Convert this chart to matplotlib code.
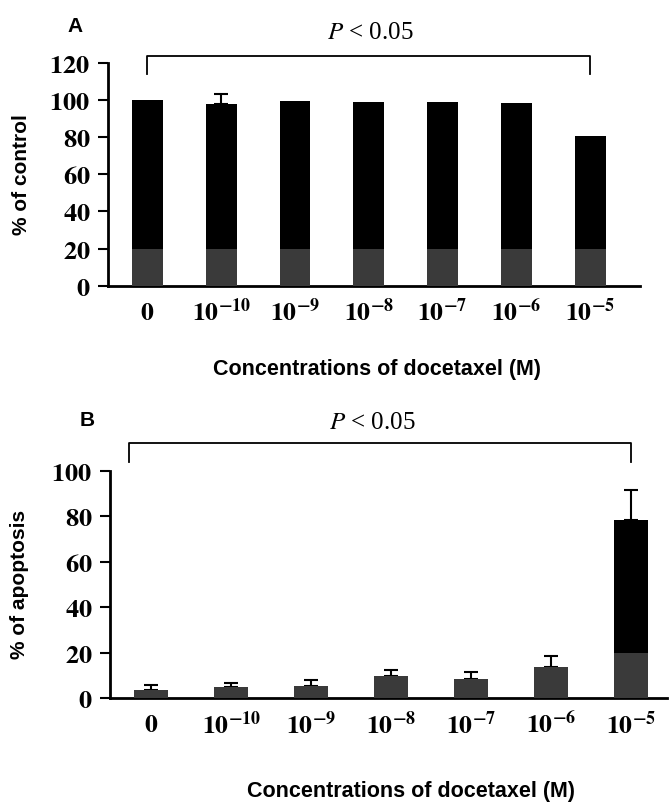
import matplotlib
matplotlib.use("Agg")
import matplotlib.pyplot as plt
import numpy as np

plt.rcParams['mathtext.fontset'] = 'stix'
plt.rcParams['mathtext.default'] = 'bf'

conc_labels = ['$0$', r'$10^{-10}$', r'$10^{-9}$', r'$10^{-8}$', r'$10^{-7}$', r'$10^{-6}$', r'$10^{-5}$']

# panel A: viability (% of control)
viab = [100, 97.7, 99.3, 99, 98.6, 98.2, 80.6]
viab_err = [0, 5.2, 0, 0, 0, 0, 0]

# panel B: apoptosis (%)
apop = [3.5, 4.8, 5.4, 9.5, 8.5, 13.6, 78.3]
apop_err = [2.2, 1.9, 2.3, 2.9, 2.8, 5.0, 13.2]

speckle = '#3a3a3a'
serif = 'Liberation Serif'
sans = 'Liberation Sans'


def draw_panel(ax, vals, errs, ylim, yticks, ylabel, width, xlim, bracket, speck_h, ylab_x):
    x = np.arange(len(vals))
    vals = np.array(vals)
    low = np.minimum(vals, speck_h)
    ax.bar(x, vals, width=width, color='black', zorder=2)
    ax.bar(x, low, width=width, color=speckle, zorder=3)
    for xi, v, e in zip(x, vals, errs):
        if e > 0:
            ax.errorbar(xi, v, yerr=[[0], [e]], color='black', capsize=5,
                        elinewidth=1.5, capthick=1.5, zorder=1)
    ax.set_xlim(*xlim)
    ax.set_ylim(*ylim)
    ax.set_yticks(yticks)
    ax.set_yticklabels(['$%d$' % t for t in yticks], fontsize=19)
    ax.set_xticks(x)
    ax.set_xticklabels(conc_labels, fontsize=18.5)
    ax.tick_params(axis='x', length=0, pad=10)
    ax.tick_params(axis='y', length=7, width=1.5, pad=6)
    for s in ['top', 'right']:
        ax.spines[s].set_visible(False)
    ax.spines['left'].set_linewidth(2)
    ax.spines['bottom'].set_linewidth(2)
    ax.set_ylabel(ylabel, fontfamily=sans, fontweight='bold', fontsize=15)
    ax.yaxis.set_label_coords(ylab_x, 0.5)
    bl, br, btop, bleg = bracket
    ax.plot([bl, bl, br, br], [bleg, btop, btop, bleg], color='black', lw=1.3,
            clip_on=False)


fig = plt.figure(figsize=(6.69, 8.06), dpi=100)

axA = fig.add_axes([0.162, 0.6455, 0.795, 0.2767])
draw_panel(axA, viab, viab_err, (0, 120), [0, 20, 40, 60, 80, 100, 120],
           '% of control', 0.42, (-0.53, 6.68), (0, 6, 123.4, 113.8), 20, -0.145)

axB = fig.add_axes([0.165, 0.134, 0.832, 0.282])
draw_panel(axB, apop, apop_err, (0, 100), [0, 20, 40, 60, 80, 100],
           '% of apoptosis', 0.43, (-0.51, 6.45), (-0.28, 6, 112, 104), 20, -0.146)

xlab = 'Concentrations of docetaxel (M)'
fig.text(0.563, 1 - 370 / 806, xlab, fontfamily=sans, fontweight='bold',
         fontsize=15.5, ha='center', va='center')
fig.text(0.614, 1 - 792 / 806, xlab, fontfamily=sans, fontweight='bold',
         fontsize=15.5, ha='center', va='center')

fig.text(0.553, 1 - 33 / 806, r'$\mathit{P}$ < 0.05', fontfamily=serif, fontsize=18,
         ha='center', va='center')
fig.text(0.556, 1 - 423 / 806, r'$\mathit{P}$ < 0.05', fontfamily=serif, fontsize=18,
         ha='center', va='center')
fig.text(0.112, 1 - 27 / 806, 'A', fontfamily=sans, fontweight='bold', fontsize=15,
         ha='center', va='center')
fig.text(0.130, 1 - 420 / 806, 'B', fontfamily=sans, fontweight='bold', fontsize=15,
         ha='center', va='center')

fig.savefig('out.png', dpi=100)
